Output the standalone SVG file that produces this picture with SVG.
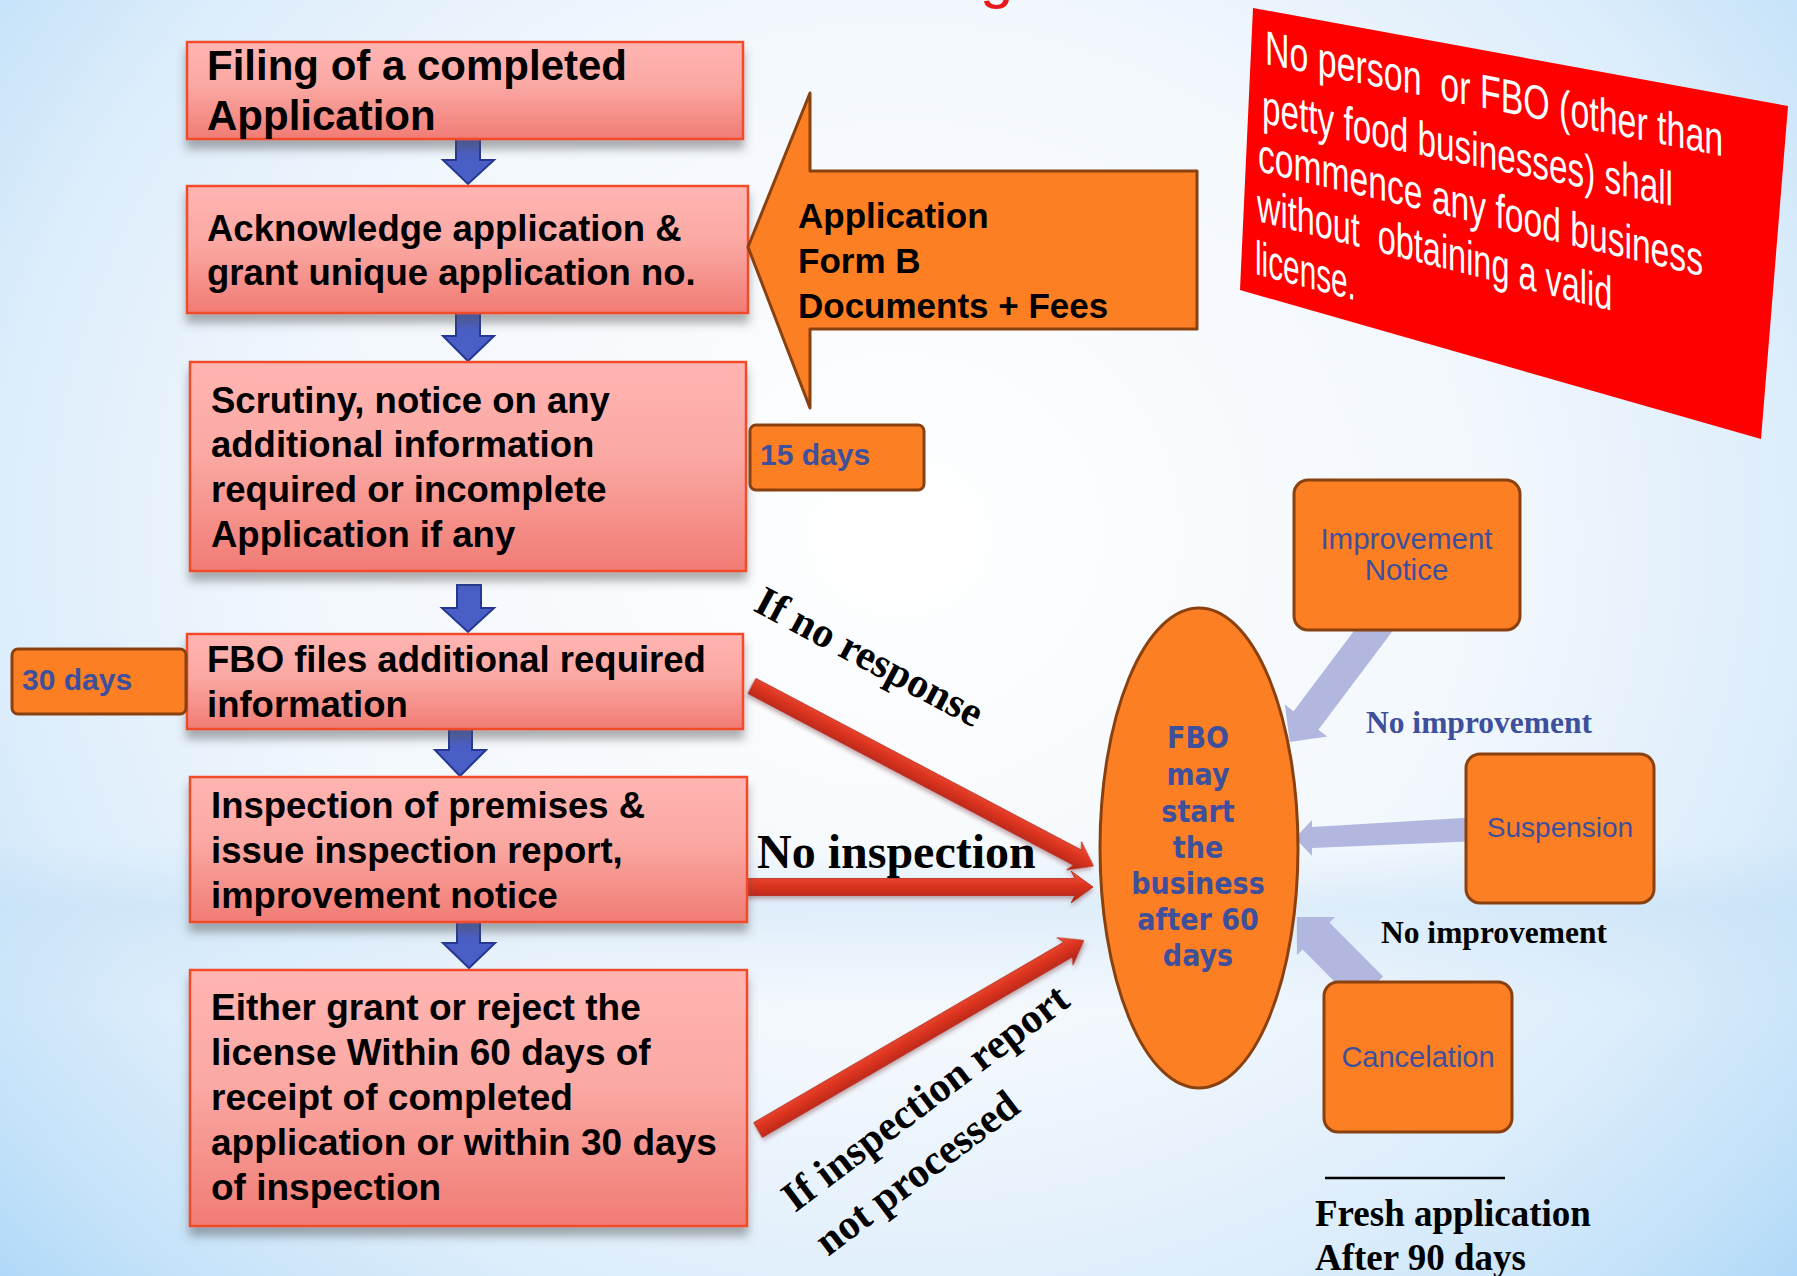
<svg xmlns="http://www.w3.org/2000/svg" width="1797" height="1276" viewBox="0 0 1797 1276">
  <defs>
    <radialGradient id="bg" cx="0.5" cy="0.42" r="0.72" gradientTransform="translate(0.5,0.42) scale(1,1.25) translate(-0.5,-0.42)">
      <stop offset="0" stop-color="#ffffff"/>
      <stop offset="0.45" stop-color="#f3f8fd"/>
      <stop offset="0.7" stop-color="#dcedfb"/>
      <stop offset="0.88" stop-color="#bfe0f9"/>
      <stop offset="1" stop-color="#a6d2f6"/>
    </radialGradient>
    <linearGradient id="band" x1="0" y1="0" x2="0" y2="1">
      <stop offset="0" stop-color="#bcdcf6" stop-opacity="0"/>
      <stop offset="0.66" stop-color="#bcdcf6" stop-opacity="0"/>
      <stop offset="0.71" stop-color="#bcdcf6" stop-opacity="0.4"/>
      <stop offset="0.79" stop-color="#bcdcf6" stop-opacity="0"/>
      <stop offset="1" stop-color="#bcdcf6" stop-opacity="0"/>
    </linearGradient>
    <linearGradient id="pink" x1="0" y1="0" x2="0" y2="1">
      <stop offset="0" stop-color="#ffb5b2"/>
      <stop offset="0.45" stop-color="#fba8a3"/>
      <stop offset="1" stop-color="#f07c74"/>
    </linearGradient>
    <linearGradient id="redtube" x1="0" y1="0" x2="0" y2="1">
      <stop offset="0" stop-color="#f0553a"/>
      <stop offset="0.45" stop-color="#dc3420"/>
      <stop offset="1" stop-color="#a82214"/>
    </linearGradient>
    <filter id="shadow" x="-5%" y="-10%" width="110%" height="130%">
      <feDropShadow dx="0" dy="9" stdDeviation="5" flood-color="#505050" flood-opacity="0.45"/>
    </filter>
    <filter id="ashadow" x="-5%" y="-50%" width="110%" height="200%">
      <feDropShadow dx="0" dy="3" stdDeviation="2" flood-color="#703030" flood-opacity="0.4"/>
    </filter>
    <style>
      .box { fill: url(#pink); stroke: #f24b2c; stroke-width: 2.5; filter: url(#shadow); }
      .btxt { font-family: "Liberation Sans", Arial, sans-serif; font-weight: bold; fill: #000; }
      .down { fill: #4a5fc6; stroke: #263791; stroke-width: 2; stroke-linejoin: miter; }
      .orange { fill: #fd7f23; stroke: #8a4110; stroke-width: 3; stroke-linejoin: round; }
      .blue { fill: #3e4f9c; font-family: "Liberation Sans", Arial, sans-serif; }
      .serif { font-family: "Liberation Serif", "Times New Roman", serif; font-weight: bold; }
      .lav { fill: #b2b7e0; }
      .red { fill: url(#redtube); stroke: #b8281a; stroke-width: 0.8; filter: url(#ashadow); }
      .warn { font-family: "Liberation Sans", Arial, sans-serif; fill: #ffffff; font-size: 48px; white-space: pre; }
    </style>
  </defs>

  <!-- background -->
  <rect x="0" y="0" width="1797" height="1276" fill="url(#bg)"/>
  <rect x="0" y="0" width="1797" height="1276" fill="url(#band)"/>

  <!-- cut-off title fragment -->
  <text x="980" y="-3" font-family="Liberation Sans, Arial, sans-serif" font-size="60" fill="#e8191c">g</text>

  <!-- warning banner -->
  <g id="warning">
    <polygon points="1253,8 1788,106 1761,439 1240,290" fill="#ff0000"/>
    <text class="warn" xml:space="preserve" transform="translate(1265,64) skewY(11.4) scale(0.707,1)">No person  or FBO (other than</text>
    <text class="warn" xml:space="preserve" transform="translate(1262,123) skewY(11.4) scale(0.694,1)">petty food businesses) shall</text>
    <text class="warn" xml:space="preserve" transform="translate(1258,171) skewY(13.3) scale(0.701,1)">commence any food business</text>
    <text class="warn" xml:space="preserve" transform="translate(1257,221) skewY(14.2) scale(0.676,1)">without  obtaining a valid</text>
    <text class="warn" xml:space="preserve" transform="translate(1255,274) skewY(14.7) scale(0.62,1)">license.</text>
  </g>

  <!-- connectors -->
  <g id="connectors">
    <!-- blue down arrows -->
    <polygon class="down" points="456,138 480,138 480,160 494,160 468,184 443,160 456,160"/>
    <polygon class="down" points="456,313 480,313 480,336 494,336 468,361 443,336 456,336"/>
    <polygon class="down" points="457,585 481,585 481,608 494,608 468,632 442,608 457,608"/>
    <polygon class="down" points="449,729 472,729 472,750 486,750 460,776 435,750 449,750"/>
    <polygon class="down" points="457,921 480,921 480,943 495,943 469,968 443,943 457,943"/>

    <!-- red arrows to ellipse -->
    <g transform="translate(752,686) rotate(27.8)">
      <path class="red" d="M0,-8.5 L368,-8.5 L364,-16 L386,0 L364,16 L368,8.5 L0,8.5 Z"/>
    </g>
    <g transform="translate(746,887)">
      <path class="red" d="M0,-8.5 L329,-8.5 L325,-16 L347,0 L325,16 L329,8.5 L0,8.5 Z"/>
    </g>
    <g transform="translate(758,1130) rotate(-30.2)">
      <path class="red" d="M0,-8.5 L359,-8.5 L355,-16 L377,0 L355,16 L359,8.5 L0,8.5 Z"/>
    </g>

    <!-- lavender arrows -->
    <polygon class="lav" points="1392.4,631.3 1318.4,729.8 1327.2,736.4 1289.8,742.1 1284.8,704.6 1293.6,711.2 1367.6,612.7"/>
    <polygon class="lav" points="1480,817 1312,827 1312,820 1295,838 1312,856 1312,848 1480,841"/>
    <polygon class="lav" points="1383.1,976.6 1329.4,922.6 1335.1,916.9 1296.9,916.9 1296.9,955.1 1302.6,949.4 1356.3,1003.4"/>
  </g>

  <!-- flow boxes -->
  <g id="n1">
    <rect class="box" x="187" y="42" width="556" height="97"/>
    <text class="btxt" font-size="42" x="207" y="80">Filing of a completed</text>
    <text class="btxt" font-size="42" x="207" y="130">Application</text>
  </g>
  <g id="n2">
    <rect class="box" x="187" y="186" width="561" height="127"/>
    <text class="btxt" font-size="36.5" x="207" y="241">Acknowledge application &amp;</text>
    <text class="btxt" font-size="36.5" x="207" y="285">grant unique application no.</text>
  </g>
  <g id="n3">
    <rect class="box" x="190" y="362" width="556" height="209"/>
    <text class="btxt" font-size="36.5" x="211" y="413">Scrutiny, notice on any</text>
    <text class="btxt" font-size="36.5" x="211" y="457">additional information</text>
    <text class="btxt" font-size="36.5" x="211" y="502">required or incomplete</text>
    <text class="btxt" font-size="36.5" x="211" y="547">Application if any</text>
  </g>
  <g id="n4">
    <rect class="box" x="187" y="634" width="556" height="95"/>
    <text class="btxt" font-size="36.5" x="207" y="672">FBO files additional required</text>
    <text class="btxt" font-size="36.5" x="207" y="717">information</text>
  </g>
  <g id="n5">
    <rect class="box" x="190" y="777" width="557" height="145"/>
    <text class="btxt" font-size="36.5" x="211" y="818">Inspection of premises &amp;</text>
    <text class="btxt" font-size="36.5" x="211" y="863">issue inspection report,</text>
    <text class="btxt" font-size="36.5" x="211" y="908">improvement notice</text>
  </g>
  <g id="n6">
    <rect class="box" x="190" y="970" width="557" height="256"/>
    <text class="btxt" font-size="37" x="211" y="1020">Either grant or reject the</text>
    <text class="btxt" font-size="37" x="211" y="1065">license Within 60 days of</text>
    <text class="btxt" font-size="37" x="211" y="1110">receipt of completed</text>
    <text class="btxt" font-size="37" x="211" y="1155">application or within 30 days</text>
    <text class="btxt" font-size="37" x="211" y="1200">of inspection</text>
  </g>

  <!-- input arrow -->
  <g id="input">
    <polygon class="orange" points="748,247 810,93 810,171 1197,171 1197,329 810,329 810,408"/>
    <text class="btxt" font-size="35" x="798" y="228">Application</text>
    <text class="btxt" font-size="35" x="798" y="273">Form B</text>
    <text class="btxt" font-size="35" x="798" y="318">Documents + Fees</text>
  </g>

  <!-- day tags -->
  <g id="d15">
    <rect class="orange" x="750" y="425" width="174" height="65" rx="6"/>
    <text class="blue" font-weight="bold" font-size="30" x="760" y="465">15 days</text>
  </g>
  <g id="d30">
    <rect class="orange" x="12" y="649" width="174" height="65" rx="6"/>
    <text class="blue" font-weight="bold" font-size="30" x="22" y="690">30 days</text>
  </g>

  <!-- labels on red arrows -->
  <text class="serif" font-size="42" transform="translate(752,610) rotate(28)">If no response</text>
  <text class="serif" font-size="48" x="757" y="868">No inspection</text>
  <g transform="translate(795,1213) rotate(-37)">
    <text class="serif" font-size="42" x="0" y="0">If inspection report</text>
    <text class="serif" font-size="42" x="0" y="55">not processed</text>
  </g>

  <!-- ellipse -->
  <g id="fbo">
    <ellipse class="orange" cx="1199" cy="848" rx="99" ry="240"/>
    <g transform="translate(1198,0) scale(0.9,1)" font-family="DejaVu Sans, Verdana, sans-serif" font-weight="bold" font-size="30" fill="#3e4f9c" text-anchor="middle">
      <text x="0" y="748">FBO</text>
      <text x="0" y="785">may</text>
      <text x="0" y="822">start</text>
      <text x="0" y="858">the</text>
      <text x="0" y="894">business</text>
      <text x="0" y="930">after 60</text>
      <text x="0" y="966">days</text>
    </g>
  </g>

  <!-- right boxes -->
  <g id="improvement">
    <rect class="orange" x="1294" y="480" width="226" height="150" rx="14"/>
    <text class="blue" font-size="29.5" x="1406.5" y="549" text-anchor="middle">Improvement</text>
    <text class="blue" font-size="29.5" x="1406.5" y="580" text-anchor="middle">Notice</text>
  </g>
  <g id="suspension">
    <rect class="orange" x="1466" y="754" width="188" height="149" rx="14"/>
    <text class="blue" font-size="28" x="1560" y="837" text-anchor="middle">Suspension</text>
  </g>
  <g id="cancelation">
    <rect class="orange" x="1324" y="982" width="188" height="150" rx="14"/>
    <text class="blue" font-size="29" x="1418" y="1067" text-anchor="middle">Cancelation</text>
  </g>

  <text class="serif" font-size="31.5" x="1366" y="733" fill="#3e4f9c">No improvement</text>
  <text class="serif" font-size="31.5" x="1381" y="943" fill="#000">No improvement</text>

  <line x1="1325" y1="1178" x2="1505" y2="1178" stroke="#000" stroke-width="2.5"/>
  <text class="serif" font-size="37" x="1315" y="1226">Fresh application</text>
  <text class="serif" font-size="37" x="1315" y="1270">After 90 days</text>
</svg>
